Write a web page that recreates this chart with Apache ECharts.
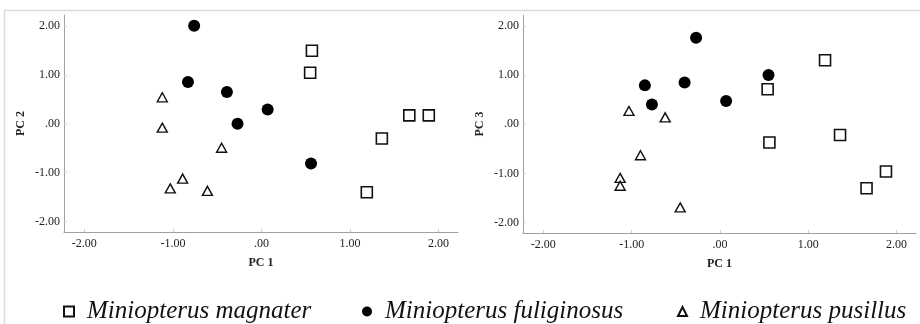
<!DOCTYPE html>
<html>
<head>
<meta charset="utf-8">
<script src="https://cdn.jsdelivr.net/npm/echarts@6/dist/echarts.min.js"></script>
<style>
  html, body { margin: 0; padding: 0; background: #fff; }
  #chart { width: 920px; height: 324px; }
</style>
</head>
<body>
<div id="chart"></div>
<script>
// species names
const species = ["Miniopterus magnater", "Miniopterus fuliginosus", "Miniopterus pusillus"];
const tickValues = [-2, -1, 0, 1, 2];

// PC1 vs PC2 (left panel)
const magnaterPC12 = [[0.57, 1.49], [0.55, 1.04], [1.67, 0.17], [1.89, 0.17], [1.36, -0.30], [1.19, -1.40]];
const fuliginosusPC12 = [[-0.76, 2.0], [-0.83, 0.85], [-0.39, 0.65], [0.07, 0.29], [-0.27, 0.0], [0.56, -0.81]];
const pusillusPC12 = [[-1.12, 0.54], [-1.12, -0.08], [-0.45, -0.49], [-0.89, -1.12], [-1.03, -1.32], [-0.61, -1.37]];

// PC1 vs PC3 (right panel)
const magnaterPC13 = [[1.19, 1.30], [0.54, 0.71], [1.36, -0.22], [0.56, -0.37], [1.88, -0.96], [1.66, -1.30]];
const fuliginosusPC13 = [[-0.27, 1.76], [0.55, 1.0], [-0.85, 0.79], [-0.40, 0.85], [-0.77, 0.40], [0.07, 0.47]];
const pusillusPC13 = [[-1.03, 0.27], [-0.62, 0.14], [-0.90, -0.63], [-1.13, -1.09], [-1.13, -1.25], [-0.45, -1.69]];

const serif = "'Liberation Serif', 'DejaVu Serif', serif";

// "0.00" -> ".00", "-1.00" stays
function fmt(v) {
  let s = v.toFixed(2);
  return s.replace(/^(-?)0\./, "$1.");
}

function xAxis(gi) {
  return {
    gridIndex: gi, type: "value", min: -2.23, max: 2.22,
    name: "PC 1", nameLocation: "middle", nameGap: 25,
    nameTextStyle: { fontFamily: serif, fontWeight: "bold", fontSize: 12, color: "#222" },
    axisLine: { show: true, onZero: false, lineStyle: { color: "#a0a0a0", width: 1 } },
    axisTick: { show: true, inside: true, length: 3, customValues: tickValues, lineStyle: { color: "#d0d0d0" } },
    axisLabel: { customValues: tickValues, formatter: fmt, fontFamily: serif, fontSize: 12, color: "#222", margin: 6 },
    splitLine: { show: false }
  };
}

function yAxis(gi, name) {
  return {
    gridIndex: gi, type: "value", min: -2.21, max: 2.22,
    name: name, nameLocation: "middle", nameGap: 37, nameRotate: 90,
    nameTextStyle: { fontFamily: serif, fontWeight: "bold", fontSize: 12, color: "#222" },
    axisLine: { show: true, onZero: false, lineStyle: { color: "#a0a0a0", width: 1 } },
    axisTick: { show: true, inside: true, length: 3, customValues: tickValues, lineStyle: { color: "#d0d0d0" } },
    axisLabel: { customValues: tickValues, formatter: fmt, fontFamily: serif, fontSize: 12, color: "#222", margin: 4 },
    splitLine: { show: false }
  };
}

const styles = [
  { symbol: "rect", symbolSize: 11, itemStyle: { color: "#fff", borderColor: "#111", borderWidth: 1.6, opacity: 1 } },
  { symbol: "circle", symbolSize: 12, itemStyle: { color: "#000", borderWidth: 0, opacity: 1 } },
  { symbol: "triangle", symbolSize: [10, 9], itemStyle: { color: "#fff", borderColor: "#111", borderWidth: 1.4, opacity: 1 } }
];

const panels = [
  [magnaterPC12, fuliginosusPC12, pusillusPC12],
  [magnaterPC13, fuliginosusPC13, pusillusPC13]
];

const series = [];
panels.forEach((sets, gi) => {
  sets.forEach((data, si) => {
    series.push(Object.assign({
      name: species[si], type: "scatter",
      xAxisIndex: gi, yAxisIndex: gi,
      data: data, silent: true
    }, styles[si]));
  });
});

function legend(name, left, icon, size) {
  return {
    data: [{ name: name, icon: icon }], left: left, top: 299,
    itemWidth: size, itemHeight: size, itemGap: 0, padding: 0,
    selectedMode: false,
    textStyle: { fontFamily: serif, fontStyle: "italic", fontSize: 25, color: "#111", padding: [0, 0, 0, 8] }
  };
}

const chart = echarts.init(document.getElementById("chart"), null, { renderer: "canvas" });
chart.setOption({
  backgroundColor: "#fff",
  animation: false,
  grid: [
    { left: 64, top: 15, width: 394, height: 217 },
    { left: 523, top: 15, width: 393, height: 218 }
  ],
  xAxis: [xAxis(0), xAxis(1)],
  yAxis: [yAxis(0, "PC 2"), yAxis(1, "PC 3")],
  legend: [
    legend(species[0], 63, "rect", 10),
    legend(species[1], 362, "circle", 10),
    legend(species[2], 677, "triangle", 9)
  ],
  graphic: [
    { type: "line", shape: { x1: 4, y1: 10.5, x2: 920, y2: 10.5 }, style: { stroke: "#dcdcd6", lineWidth: 1.5 } },
    { type: "line", shape: { x1: 4.5, y1: 10, x2: 4.5, y2: 324 }, style: { stroke: "#dcdcd6", lineWidth: 1.5 } }
  ],
  series: series
});
</script>
</body>
</html>
